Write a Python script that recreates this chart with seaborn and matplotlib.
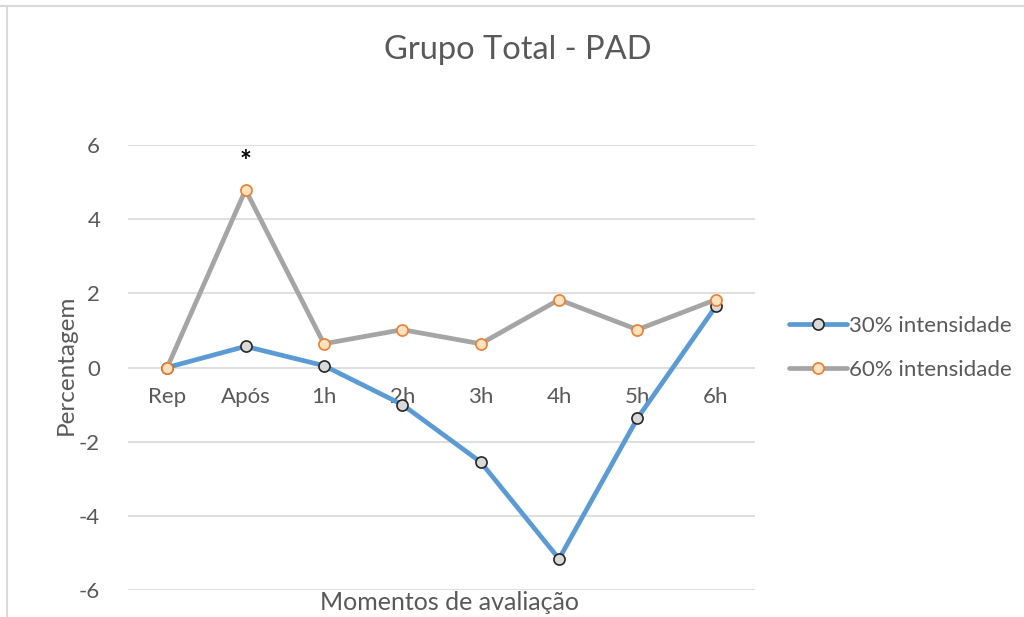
import numpy as np
import pandas as pd
import matplotlib
matplotlib.use("Agg")
import matplotlib.pyplot as plt
import seaborn as sns

# dados
momentos = ["Rep", "Após", "1h", "2h", "3h", "4h", "5h", "6h"]
int30 = [0.0, 0.57, 0.05, -1.0, -2.55, -5.16, -1.37, 1.65]
int60 = [0.0, 4.79, 0.64, 1.02, 0.64, 1.83, 1.02, 1.83]
signif = ["", "*", "", "", "", "", "", ""]   # marcas de significancia (60%)
yticks = [-6, -4, -2, 0, 2, 4, 6]

sns.set_theme(style="white")
plt.rcParams['font.family'] = ['Lato', 'DejaVu Sans']
txt = "#595959"

fig = plt.figure(figsize=(10.24, 6.17), dpi=100)
ax = fig.add_axes([128/1024, 1 - 590/617, 627/1024, 445/617])

df30 = pd.DataFrame({"Momento": momentos, "Percentagem": int30})
df60 = pd.DataFrame({"Momento": momentos, "Percentagem": int60})

sns.lineplot(data=df30, x="Momento", y="Percentagem", ax=ax, sort=False,
             color="#5B9BD5", linewidth=3.4, marker="o", markersize=8,
             markerfacecolor="#D9D9D9", markeredgecolor="#262626",
             markeredgewidth=1.2, label="30% intensidade", zorder=3)
sns.lineplot(data=df60, x="Momento", y="Percentagem", ax=ax, sort=False,
             color="#A5A5A5", linewidth=3.4, marker="o", markersize=8,
             markerfacecolor="#FFE3BF", markeredgecolor="#ED7D31",
             markeredgewidth=1.2, label="60% intensidade", zorder=4)

for i, s in enumerate(signif):
    if s:
        ax.text(i, int60[i] + 0.75, s, ha="center", va="center",
                fontsize=20, color="black", fontweight="bold")

ax.set_xlim(-0.5, len(momentos) - 0.5)
ax.set_ylim(-6, 6)
ax.set_yticks(yticks)
ax.set_yticklabels([str(v) for v in yticks])
ax.yaxis.grid(True, color="#D9D9D9", linewidth=1.2)
ax.xaxis.grid(False)
for sp in ["top", "right", "left"]:
    ax.spines[sp].set_visible(False)
ax.spines["bottom"].set_position(("data", 0))
ax.spines["bottom"].set_visible(False)
ax.tick_params(axis="x", length=0, pad=14, labelsize=16, labelcolor=txt)
ax.tick_params(axis="y", length=0, pad=20, labelsize=16, labelcolor=txt)

ax.set_xlabel("")
ax.set_ylabel("")
fig.text(449/1024, 1 - 603/617, "Momentos de avaliação", ha="center",
         va="center", fontsize=18, color=txt)
fig.text(66/1024, 1 - 365/617, "Percentagem", ha="center", va="center",
         rotation=90, fontsize=17.5, color=txt)
fig.text(518/1024, 1 - 50/617, "Grupo Total - PAD", ha="center",
         va="center", fontsize=23.5, color=txt)

ax.legend(loc="center left", bbox_to_anchor=(780/1024, 1 - 348/617),
          bbox_transform=fig.transFigure, frameon=False, fontsize=16,
          handlelength=2.6, handletextpad=0.1, labelspacing=1.1,
          labelcolor=txt, borderaxespad=0)

# moldura
fig.add_artist(plt.Line2D([0, 1], [1 - 6/617] * 2, color="#D9D9D9", lw=1.5))
fig.add_artist(plt.Line2D([7/1024] * 2, [0, 1 - 6/617], color="#D9D9D9", lw=1.5))

fig.savefig("out.png", dpi=100)
